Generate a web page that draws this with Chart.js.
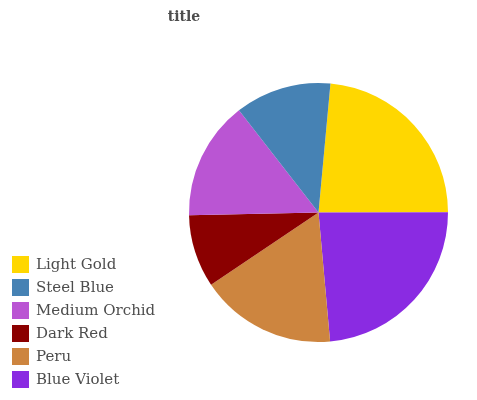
<!DOCTYPE html>
<html>
<head>
<meta charset="utf-8">
<script src="https://cdn.jsdelivr.net/npm/chart.js@4/dist/chart.umd.min.js"></script>
<style>
html,body{margin:0;padding:0;background:#fff;}
#wrap{position:relative;width:477px;height:400px;}
</style>
</head>
<body>
<div id="wrap"><canvas id="c" width="477" height="400"></canvas></div>
<script>
// Legend order
const legendLabels = ["Light Gold", "Steel Blue", "Medium Orchid", "Dark Red", "Peru", "Blue Violet"];
const legendValues = [23.5, 12.0, 14.8, 9.1, 17.0, 23.6];
const legendColors = ["#FFD700", "#4682B4", "#BA55D3", "#8B0000", "#CD853F", "#8A2BE2"];
// Clockwise drawing order (from the top)
const drawOrder = [0, 5, 4, 3, 2, 1];
const categories = drawOrder.map(i => legendLabels[i]);
const values = drawOrder.map(i => legendValues[i]);
const colors = drawOrder.map(i => legendColors[i]);
const titleText = "title";

const overlay = {
  id: 'overlay',
  afterDraw(chart) {
    const ctx = chart.ctx;
    ctx.save();
    ctx.fillStyle = '#4d4d4d';
    ctx.font = 'bold 14px "DejaVu Serif"';
    ctx.textAlign = 'center';
    ctx.textBaseline = 'middle';
    ctx.fillText(titleText, 184, 17);
    ctx.font = '15px "DejaVu Serif"';
    ctx.textAlign = 'left';
    legendLabels.forEach((lab, i) => {
      const y = 256 + i * 23;
      ctx.fillStyle = legendColors[i];
      ctx.fillRect(12, y, 17, 17);
      ctx.fillStyle = '#4d4d4d';
      ctx.fillText(lab, 36, y + 9);
    });
    ctx.restore();
  }
};

new Chart(document.getElementById('c'), {
  type: 'pie',
  data: {
    labels: categories,
    datasets: [{
      data: values,
      backgroundColor: colors,
      borderWidth: 0
    }]
  },
  options: {
    responsive: false,
    animation: false,
    rotation: 5.3,
    layout: { padding: { left: 189, right: 29, top: 83, bottom: 58 } },
    plugins: { legend: { display: false }, tooltip: { enabled: false }, title: { display: false } }
  },
  plugins: [overlay]
});
</script>
</body>
</html>
